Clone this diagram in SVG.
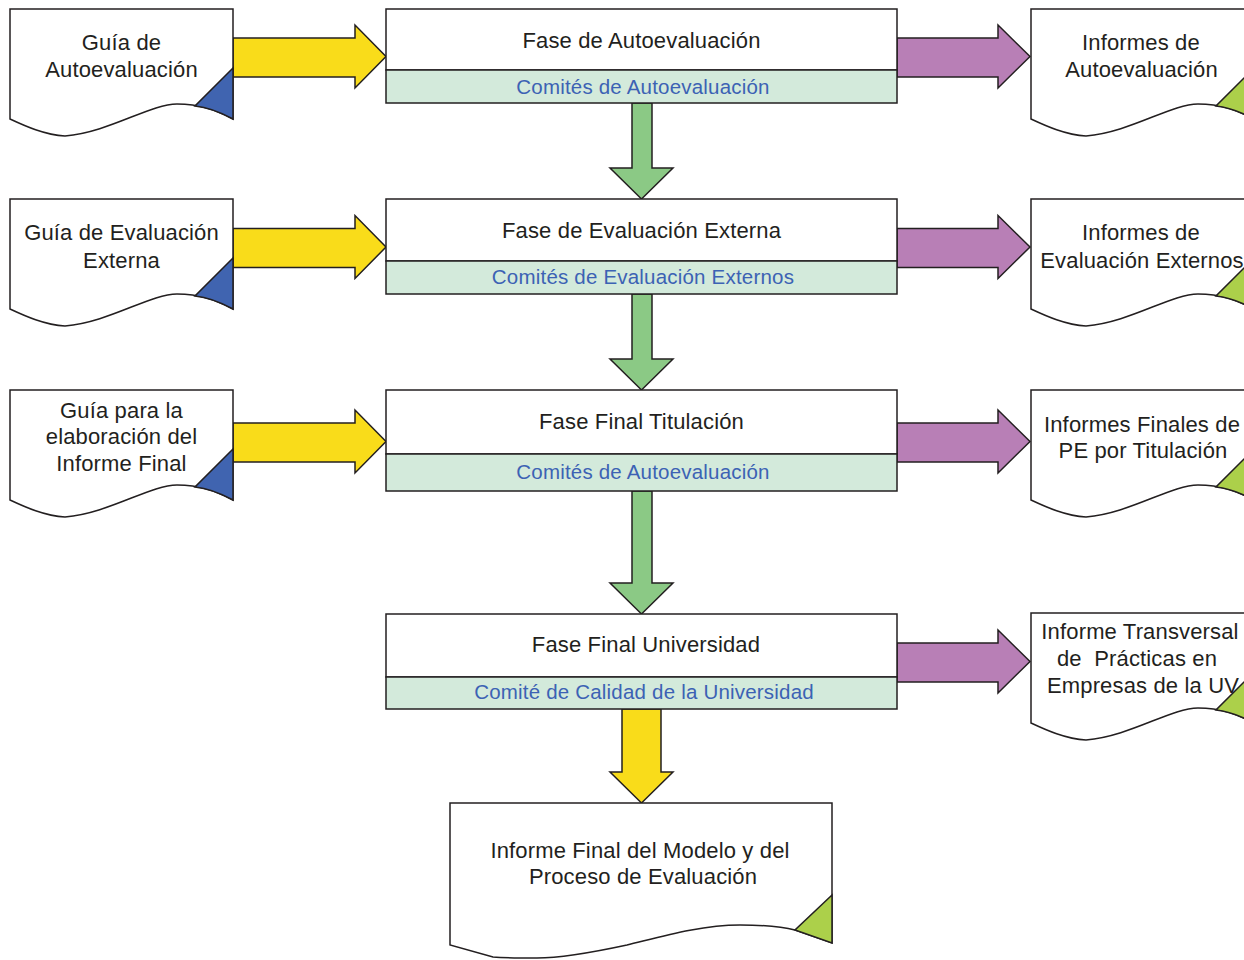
<svg xmlns="http://www.w3.org/2000/svg" xmlns:xlink="http://www.w3.org/1999/xlink" width="1244" height="960" viewBox="0 0 1244 960">
<style>
.ln{stroke:#231f20;stroke-width:1.5;stroke-linejoin:miter}
.doc{fill:#fff}
.t{font-family:"Liberation Sans",Arial,sans-serif;font-size:22px;letter-spacing:0.15px;fill:#231f20;text-anchor:middle}
.s{font-family:"Liberation Sans",Arial,sans-serif;font-size:20.5px;letter-spacing:0.2px;fill:#3c62b4;text-anchor:middle}
.yel{fill:#f9dc1a}
.pur{fill:#b87fb6}
.grn{fill:#8bc985}
.top{fill:#fff}
.bot{fill:#d3eadb}
.blue{fill:#4064b0}
.lime{fill:#acd04a}
</style>
<defs>
<path id="docShape" d="M10,9 H233 V119 C215,110 200,104 177,104 C150,104 110,132 65,136 C45,135 25,126 10,119 Z"/>
<path id="docTri" d="M233,68 L195,106 C205,107 220,112 233,119 Z"/>
<path id="hArrowY" d="M233,38 H355 V25 L386,56.5 L355,88 V77 H233 Z"/>
<path id="hArrowP" d="M897,38 H998 V25 L1030,56.5 L998,88 V77 H897 Z"/>
</defs>

<g id="connectors">
  <use xlink:href="#hArrowY" class="yel ln"/>
  <use xlink:href="#hArrowY" class="yel ln" transform="translate(0,190.5)"/>
  <use xlink:href="#hArrowY" class="yel ln" transform="translate(0,385)"/>
  <use xlink:href="#hArrowP" class="pur ln"/>
  <use xlink:href="#hArrowP" class="pur ln" transform="translate(0,190.5)"/>
  <use xlink:href="#hArrowP" class="pur ln" transform="translate(0,385)"/>
  <use xlink:href="#hArrowP" class="pur ln" transform="translate(0,605)"/>
  <path class="grn ln" d="M632,103 V168 H610 L641.5,199 L673,168 H652 V103 Z"/>
  <path class="grn ln" d="M632,294 V359 H610 L641.5,390 L673,359 H652 V294 Z"/>
  <path class="grn ln" d="M632,491 V583 H610 L641.5,614 L673,583 H652 V491 Z"/>
  <path class="yel ln" d="M622,709 V772 H610 L641.5,803 L673,772 H661 V709 Z"/>
</g>

<g id="guia-auto">
  <use xlink:href="#docShape" class="doc ln"/>
  <use xlink:href="#docTri" class="blue ln"/>
  <text class="t" x="121.5" y="50">Guía de</text>
  <text class="t" x="121.5" y="77">Autoevaluación</text>
</g>
<g id="guia-ext" transform="translate(0,190)">
  <use xlink:href="#docShape" class="doc ln"/>
  <use xlink:href="#docTri" class="blue ln"/>
  <text class="t" x="121.5" y="50">Guía de Evaluación</text>
  <text class="t" x="121.5" y="78">Externa</text>
</g>
<g id="guia-final" transform="translate(0,381)">
  <use xlink:href="#docShape" class="doc ln"/>
  <use xlink:href="#docTri" class="blue ln"/>
  <text class="t" x="121.5" y="37">Guía para la</text>
  <text class="t" x="121.5" y="63">elaboración del</text>
  <text class="t" x="121.5" y="90">Informe Final</text>
</g>

<g id="fase-auto">
  <rect class="top ln" x="386" y="9" width="511" height="61"/>
  <rect class="bot ln" x="386" y="70" width="511" height="33"/>
  <text class="t" x="641.5" y="48">Fase de Autoevaluación</text>
  <text class="s" x="643" y="94">Comités de Autoevaluación</text>
</g>
<g id="fase-ext">
  <rect class="top ln" x="386" y="199" width="511" height="62"/>
  <rect class="bot ln" x="386" y="261" width="511" height="33"/>
  <text class="t" x="641.5" y="238">Fase de Evaluación Externa</text>
  <text class="s" x="643" y="284">Comités de Evaluación Externos</text>
</g>
<g id="fase-tit">
  <rect class="top ln" x="386" y="390" width="511" height="64"/>
  <rect class="bot ln" x="386" y="454" width="511" height="37"/>
  <text class="t" x="641.5" y="429">Fase Final Titulación</text>
  <text class="s" x="643" y="479">Comités de Autoevaluación</text>
</g>
<g id="fase-univ">
  <rect class="top ln" x="386" y="614" width="511" height="63"/>
  <rect class="bot ln" x="386" y="677" width="511" height="32"/>
  <text class="t" x="646" y="652">Fase Final Universidad</text>
  <text class="s" x="644" y="699">Comité de Calidad de la Universidad</text>
</g>

<g id="inf-auto" transform="translate(1021,0)">
  <use xlink:href="#docShape" class="doc ln"/>
  <use xlink:href="#docTri" class="lime ln"/>
  <text class="t" x="120" y="50">Informes de</text>
  <text class="t" x="120.5" y="77">Autoevaluación</text>
</g>
<g id="inf-ext" transform="translate(1021,190)">
  <use xlink:href="#docShape" class="doc ln"/>
  <use xlink:href="#docTri" class="lime ln"/>
  <text class="t" x="120" y="50">Informes de</text>
  <text class="t" x="121" y="78">Evaluación Externos</text>
</g>
<g id="inf-tit" transform="translate(1021,381)">
  <use xlink:href="#docShape" class="doc ln"/>
  <use xlink:href="#docTri" class="lime ln"/>
  <text class="t" x="121" y="51">Informes Finales de</text>
  <text class="t" x="122" y="77">PE por Titulación</text>
</g>
<g id="inf-trans" transform="translate(1021,604)">
  <use xlink:href="#docShape" class="doc ln"/>
  <use xlink:href="#docTri" class="lime ln"/>
  <text class="t" x="119" y="35">Informe Transversal</text>
  <text class="t" x="116" y="62" xml:space="preserve">de  Prácticas en</text>
  <text class="t" x="122" y="89">Empresas de la UV</text>
</g>

<g id="inf-final">
  <path class="doc ln" d="M450,803 H832 V943 L795,930 C780,926 765,925 740,925 C700,925 660,937 627,945 C590,953 560,958 537,958 C520,958 505,958 493,957 L450,945 Z"/>
  <path class="lime ln" d="M832,895 L795,930 L832,943 Z"/>
  <text class="t" x="640" y="858">Informe Final del Modelo y del</text>
  <text class="t" x="643" y="884">Proceso de Evaluación</text>
</g>
</svg>
